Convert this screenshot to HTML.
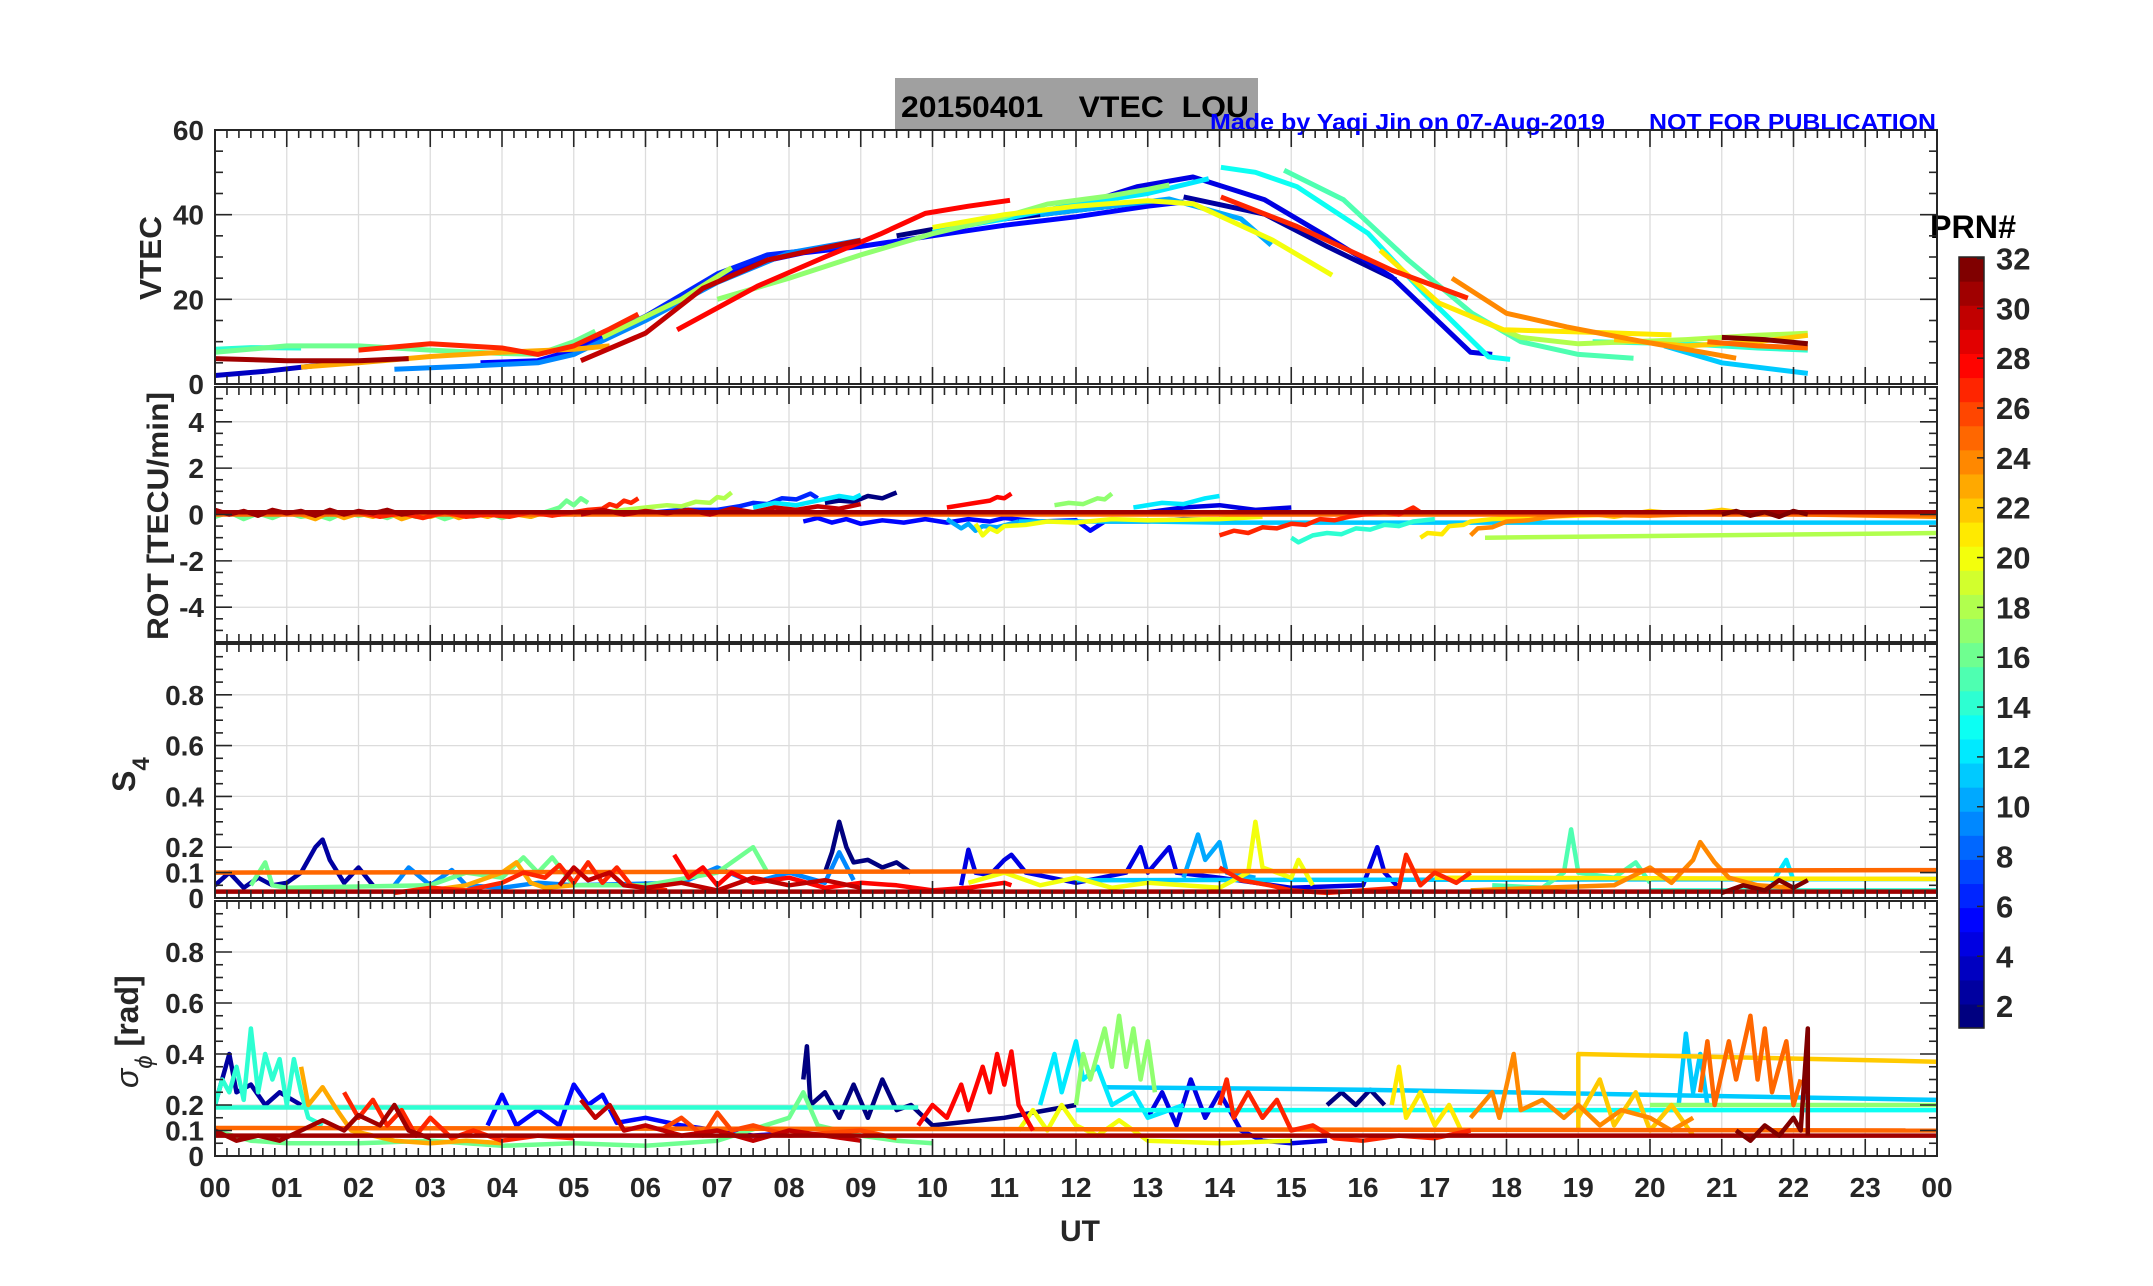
<!DOCTYPE html>
<html><head><meta charset="utf-8"><title>20150401 VTEC LOU</title>
<style>
html,body{margin:0;padding:0;background:#fff;}
svg{display:block;}
text{font-family:"Liberation Sans",sans-serif;font-weight:bold;fill:#262626;}
</style></head>
<body>
<svg id="fig" xmlns="http://www.w3.org/2000/svg" width="2153" height="1286" viewBox="0 0 2153 1286">
  <rect x="0" y="0" width="2153" height="1286" fill="#fff"/>
  <rect x="895" y="78" width="363" height="53" fill="#a0a0a0"/>
  <text x="901" y="117" font-size="30" textLength="348" lengthAdjust="spacingAndGlyphs" xml:space="preserve" style="fill:#000;white-space:pre">20150401    VTEC  LOU</text>
  <text x="1210" y="130" font-size="23" textLength="395" lengthAdjust="spacingAndGlyphs" style="fill:#0000ff">Made by Yaqi Jin on 07-Aug-2019</text>
  <text x="1649" y="130" font-size="23" textLength="287" lengthAdjust="spacingAndGlyphs" style="fill:#0000ff">NOT FOR PUBLICATION</text>
  <text x="1930" y="238" font-size="32" textLength="86" lengthAdjust="spacingAndGlyphs" style="fill:#000">PRN#</text>
  <text x="1060" y="1241" font-size="30">UT</text>
  <text transform="translate(161,300) rotate(-90)" font-size="31" textLength="84" lengthAdjust="spacingAndGlyphs">VTEC</text>
  <text transform="translate(168,640) rotate(-90)" font-size="30" textLength="248" lengthAdjust="spacingAndGlyphs">ROT [TECU/min]</text>
  <text transform="translate(135,792) rotate(-90)" font-size="32">S<tspan font-size="24" dy="14">4</tspan></text>
  <text transform="translate(138,1088) rotate(-90)" font-size="32"><tspan font-style="italic" font-weight="normal">σ</tspan><tspan font-size="24" dy="14" font-style="italic" font-weight="normal">ϕ</tspan><tspan dy="-14"> [rad]</tspan></text>
  <g id="plots"></g>
</svg>
<script>
// ---------- data ----------
const hourLabels = ["00","01","02","03","04","05","06","07","08","09","10","11","12","13","14","15","16","17","18","19","20","21","22","23","00"];
const vtecTicks = [0,20,40,60];
const rotTicks = [-4,-2,0,2,4];
const s4Ticks = [0,0.1,0.2,0.4,0.6,0.8];
const sigTicks = [0,0.1,0.2,0.4,0.6,0.8];
const cbarTicks = [2,4,6,8,10,12,14,16,18,20,22,24,26,28,30,32];

const vtecPrn = [16,14,31,3,23,27,9,5,6,18,30,17,28,12,1,10,20,4,13,15,27,2,21,24,22,18,14,32,11,25];
const vtecPts = [
 [0,7.5, 1,9, 2,9, 3,8, 4,7.2, 4.5,7, 5,10, 5.3,12.5],
 [0,8.2, 0.5,8.6, 1.2,8.5],
 [0,6, 1,5.5, 2,5.5, 2.7,6],
 [0,2, 0.7,3, 1.5,4.5, 2,5.5],
 [1.2,4, 2,5, 3,6.5, 4,7.5, 5,8.2, 5.5,9],
 [2,8, 3,9.5, 4,8.5, 4.5,7, 5,9, 5.5,13, 5.9,16.5],
 [2.5,3.5, 3.5,4.2, 4.5,5, 5,7, 6,15, 7,24, 8,31, 8.5,32.5, 9,34],
 [3.7,5, 4.5,5.5, 5,8, 6,16, 7,25, 7.5,28.5, 8.2,31, 9,32.5, 10,35, 11,37.5, 12,39.5, 13,42, 13.5,43],
 [5,7, 6,16, 7,26, 7.7,30.5, 8.5,32, 9,33.5],
 [5.4,11, 6.5,20, 7.2,27.5],
 [5.1,5.5, 6,12, 6.8,22.6, 7.7,29.3, 8.5,32.2, 9,33.9],
 [7,20, 8,25, 9,30.5, 10,35.5, 11,39.5, 11.6,42.5, 12.5,44.5, 13,46, 13.3,47],
 [6.44,12.8, 7.56,23.1, 8.5,30, 9.27,35.4, 9.9,40.3, 10.5,42, 11.08,43.4],
 [10,36, 11,39, 12,42.5, 13,45, 13.85,48.5],
 [9.5,35, 10.5,38, 11.5,40, 12.5,42, 13,43],
 [11.5,40, 12.5,42, 13.3,43.7, 14.3,39, 14.72,32.8],
 [10,37, 11,40, 12,42, 13,43.3, 13.63,42.6, 14.74,34, 15.57,25.7],
 [11,39, 12,42, 12.85,46.6, 13.63,48.9, 14.63,43.5, 15.5,34.8, 16.4,25.3, 17.5,7.5, 17.8,7],
 [14.02,51.2, 14.5,50, 15.08,46.6, 16.07,35.6, 16.85,21.4, 17.75,6.4, 18.05,5.8],
 [14.9,50.5, 15.73,43.5, 16.63,29.3, 17.52,16.7, 18.2,10, 19,7, 19.77,6.1],
 [14.02,44.2, 15.08,37.2, 16.4,26.9, 17.46,20.3],
 [13.5,44.2, 14.63,40.1, 15.51,32.4, 16.46,24.6],
 [16.24,31.6, 17.06,19.1, 17.96,12.8, 19.4,12.1, 20.3,11.6],
 [17.24,25, 18.0,16.7, 18.84,13.5, 20,9.7, 21.2,6.1],
 [19.5,10.5, 20.5,9, 21.5,10, 22.2,11.5],
 [17.5,16, 18.2,11, 19,9.5, 20.5,10.5, 21.5,11.5, 22.2,12],
 [19.2,10, 20.5,9.5, 21.5,8.5, 22.2,8],
 [21,11, 21.6,10.5, 22.2,9.5],
 [20.2,9, 21,5, 22.2,2.5],
 [20.8,10, 21.5,9, 22.2,8.5]
];

const rotPrn = [25,16,23,27,31,30,18,6,12,1,5,10,20,28,17,11,12,4,27,14,21,24,18,22,32,31];
const rotPts = [
 [0,0, 24,0],
 [0,-0.1, 0.2,0.1, 0.4,-0.2, 0.6,0.05, 0.8,-0.15, 1,0.1, 1.2,-0.1, 1.4,0, 1.6,-0.2, 1.8,0.1, 2,-0.05, 2.2,0.05, 2.4,-0.15, 2.6,0.1, 2.8,-0.1, 3,0.05, 3.2,-0.2, 3.4,0, 3.6,-0.1, 3.8,0.1, 4,-0.15, 4.2,0.05, 4.4,-0.1, 4.6,0.1, 4.8,0.3, 4.9,0.6, 5.0,0.4, 5.1,0.7, 5.2,0.5],
 [1.2,0, 1.4,-0.2, 1.6,0.1, 1.8,-0.15, 2,0.05, 2.2,-0.1, 2.4,0.1, 2.6,-0.2, 2.8,0, 3,-0.1, 3.2,0.1, 3.4,-0.15, 3.6,0.05, 3.8,-0.1, 4,0.1, 4.2,0, 4.4,-0.1, 4.6,0.1, 4.8,0, 5,0.1, 5.2,0.05, 5.4,0.15],
 [2,0.1, 2.3,-0.1, 2.6,0.05, 2.9,-0.15, 3.2,0.1, 3.5,-0.1, 3.8,0, 4.1,-0.1, 4.4,0.1, 4.7,-0.05, 5,0.1, 5.2,0.2, 5.4,0.25, 5.5,0.45, 5.6,0.35, 5.7,0.6, 5.8,0.5, 5.9,0.7],
 [0,0.2, 0.2,0, 0.4,0.15, 0.6,-0.05, 0.8,0.2, 1,0.05, 1.2,0.15, 1.4,-0.05, 1.6,0.2, 1.8,0, 2,0.15, 2.2,0.05, 2.4,0.2, 2.6,0, 2.8,0.1],
 [5.1,0, 5.4,0.2, 5.7,0, 6,0.15, 6.3,0.05, 6.6,0.2, 6.9,0, 7.2,0.25, 7.5,0.1, 7.8,0.3, 8.1,0.2, 8.4,0.35, 8.7,0.25, 9,0.45],
 [5.4,0.1, 5.7,0.2, 6,0.3, 6.3,0.4, 6.5,0.35, 6.7,0.55, 6.9,0.5, 7.0,0.75, 7.1,0.7, 7.2,0.95],
 [5,0, 5.5,0.1, 6,0.05, 6.5,0.2, 7,0.2, 7.3,0.35, 7.5,0.5, 7.7,0.45, 7.9,0.7, 8.1,0.65, 8.3,0.9, 8.4,0.7],
 [7.5,0.3, 7.8,0.5, 8.1,0.4, 8.4,0.6, 8.7,0.8, 8.9,0.7, 9,0.85],
 [8.5,0.5, 8.7,0.6, 8.9,0.55, 9.1,0.8, 9.3,0.7, 9.5,0.95],
 [8.2,-0.3, 8.4,-0.15, 8.6,-0.35, 8.8,-0.2, 9,-0.4, 9.3,-0.25, 9.6,-0.35, 9.9,-0.2, 10.2,-0.35, 10.5,-0.2, 10.8,-0.3, 11,-0.15, 11.5,-0.3, 12,-0.25, 12.2,-0.7, 12.4,-0.3, 13,-0.3, 13.5,-0.2, 14,-0.25],
 [10.2,-0.2, 10.4,-0.6, 10.5,-0.4, 10.6,-0.7, 10.7,-0.5, 10.9,-0.55, 11.2,-0.3],
 [10.6,-0.4, 10.7,-0.9, 10.8,-0.6, 10.9,-0.75, 11,-0.5, 11.3,-0.45, 11.6,-0.3, 12,-0.35, 12.5,-0.2, 13,-0.25, 14,-0.2, 14.6,-0.1],
 [10.2,0.3, 10.4,0.4, 10.6,0.5, 10.8,0.6, 10.9,0.75, 11,0.7, 11.1,0.9],
 [11.7,0.4, 11.9,0.5, 12.1,0.45, 12.3,0.7, 12.4,0.65, 12.5,0.9],
 [11.2,-0.3, 13.0,-0.3, 14,-0.35, 24,-0.35],
 [12.8,0.3, 13.2,0.5, 13.5,0.45, 13.8,0.7, 14,0.8],
 [13,0.1, 13.5,0.3, 14,0.4, 14.5,0.2, 15,0.3],
 [14,-0.9, 14.2,-0.7, 14.4,-0.8, 14.6,-0.55, 14.8,-0.6, 15,-0.4, 15.2,-0.45, 15.4,-0.2, 15.6,-0.25, 15.8,-0.1, 16,0, 16.3,0.1, 16.5,0, 16.7,0.3, 16.8,0.1],
 [15,-1.0, 15.1,-1.2, 15.3,-0.9, 15.5,-0.8, 15.7,-0.85, 15.9,-0.6, 16.1,-0.65, 16.3,-0.45, 16.5,-0.5, 16.7,-0.3, 17,-0.2],
 [16.8,-1.0, 16.9,-0.8, 17.1,-0.85, 17.2,-0.5, 17.4,-0.45, 17.5,-0.3, 17.8,-0.2, 18.5,-0.1, 19.5,0, 20,0.1, 21,0],
 [17.5,-0.9, 17.6,-0.6, 17.8,-0.55, 18,-0.3, 18.3,-0.25, 18.6,-0.1, 19,0, 20,-0.05, 21,0.05, 22.2,0, 24,-0.1],
 [17.7,-1.0, 24,-0.8],
 [19,0.1, 19.5,-0.1, 20,0.15, 20.5,0, 21,0.2, 21.5,0, 22,0.1],
 [21,0, 21.2,0.15, 21.4,-0.05, 21.6,0.1, 21.8,-0.1, 22,0.15, 22.2,0],
 [0,0.1, 24,0.1]
];

const s4Prn = [31,14,11,21,2,16,9,23,27,28,30,1,4,10,20,27,15,24,32,12,25];
const s4Pts = [
 [0,0.025, 24,0.025],
 [20,0.03, 24,0.03],
 [12,0.07, 24,0.075],
 [17,0.08, 24,0.075],
 [0,0.05, 0.2,0.1, 0.4,0.04, 0.6,0.08, 0.8,0.05, 1,0.06, 1.2,0.1, 1.4,0.2, 1.5,0.23, 1.6,0.15, 1.8,0.06, 2,0.12, 2.2,0.05],
 [0.5,0.05, 0.7,0.14, 0.8,0.05, 1,0.04, 3,0.05, 3.5,0.1, 4,0.08, 4.3,0.16, 4.5,0.1, 4.7,0.16, 5,0.05, 6,0.05, 7,0.1, 7.5,0.2, 7.7,0.1],
 [2.5,0.05, 2.7,0.12, 3,0.05, 3.3,0.11, 3.5,0.05, 4,0.04, 4.5,0.06, 5,0.05, 6.5,0.06, 7,0.12, 7.5,0.06, 8,0.1, 8.5,0.06, 8.7,0.18, 8.9,0.07],
 [3,0.03, 3.5,0.05, 4,0.1, 4.2,0.14, 4.4,0.06, 4.6,0.04, 5,0.05],
 [2.5,0.02, 3,0.04, 3.5,0.03, 4,0.06, 4.3,0.1, 4.6,0.08, 4.8,0.13, 5,0.06, 5.2,0.14, 5.4,0.06, 5.6,0.12, 5.8,0.05, 6,0.04, 6.3,0.03],
 [6.4,0.17, 6.6,0.08, 6.8,0.12, 7,0.05, 7.2,0.1, 7.5,0.06, 8,0.08, 8.5,0.04, 9,0.06, 9.5,0.05, 10,0.03, 10.5,0.04, 11,0.06, 11.1,0.05],
 [4.8,0.05, 5,0.12, 5.2,0.07, 5.5,0.1, 5.7,0.05, 6,0.04, 6.5,0.06, 7,0.03, 7.5,0.08, 8,0.05, 8.5,0.07, 9,0.04],
 [8.5,0.1, 8.6,0.18, 8.7,0.3, 8.8,0.2, 8.9,0.14, 9.1,0.15, 9.3,0.12, 9.5,0.14, 9.7,0.1],
 [10.4,0.05, 10.5,0.19, 10.6,0.1, 10.8,0.09, 11,0.15, 11.1,0.17, 11.3,0.1, 12,0.06, 12.7,0.1, 12.9,0.2, 13.0,0.1, 13.3,0.2, 13.4,0.1, 14,0.08, 15,0.04, 16,0.05, 16.2,0.2, 16.3,0.1, 16.5,0.04],
 [13.5,0.08, 13.7,0.25, 13.8,0.15, 14,0.22, 14.1,0.1, 14.5,0.08],
 [10.5,0.06, 11,0.1, 11.5,0.05, 12,0.08, 12.5,0.04, 13,0.06, 14,0.04, 14.4,0.1, 14.5,0.3, 14.6,0.12, 15,0.08, 15.1,0.15, 15.3,0.05],
 [14,0.12, 14.3,0.07, 14.7,0.05, 15,0.03, 15.5,0.02, 16,0.03, 16.5,0.04, 16.6,0.17, 16.8,0.05, 17,0.1, 17.3,0.06, 17.5,0.1],
 [17.8,0.05, 18.5,0.04, 18.8,0.1, 18.9,0.27, 19.0,0.1, 19.5,0.08, 19.8,0.14, 20,0.06],
 [17.5,0.03, 18.5,0.04, 19.5,0.05, 20,0.12, 20.3,0.06, 20.6,0.15, 20.7,0.22, 20.9,0.14, 21.1,0.08, 21.5,0.05, 22,0.04],
 [21,0.02, 21.3,0.05, 21.6,0.03, 21.8,0.07, 22,0.04, 22.2,0.07],
 [21.7,0.06, 21.9,0.15, 22,0.07],
 [0,0.1, 24,0.11]
];

const sigPrn = [14,13,11,17,14,2,23,27,31,16,5,1,28,30,26,20,12,17,4,27,1,21,24,22,11,25,32,22,25,31];
const sigPts = [
 [0,0.19, 9.8,0.19],
 [12,0.18, 24,0.18],
 [12.4,0.27, 16,0.26, 24,0.22],
 [20,0.2, 24,0.2],
 [0,0.2, 0.1,0.3, 0.2,0.25, 0.3,0.35, 0.4,0.22, 0.5,0.5, 0.6,0.25, 0.7,0.4, 0.8,0.3, 0.9,0.38, 1,0.2, 1.1,0.38, 1.2,0.25, 1.3,0.15, 1.5,0.12],
 [0,0.2, 0.2,0.4, 0.3,0.25, 0.5,0.28, 0.7,0.2, 0.9,0.25, 1.2,0.2],
 [1.2,0.35, 1.3,0.2, 1.5,0.27, 1.7,0.18, 1.9,0.1, 2.5,0.06, 3,0.05, 3.5,0.06, 4,0.05],
 [1.8,0.25, 2,0.15, 2.2,0.22, 2.4,0.12, 2.6,0.18, 2.8,0.08, 3,0.15, 3.3,0.07, 3.6,0.1, 4,0.06, 4.5,0.08, 5,0.07],
 [0,0.1, 0.3,0.06, 0.6,0.08, 0.9,0.06, 1.2,0.1, 1.5,0.14, 1.8,0.1, 2,0.16, 2.3,0.12, 2.5,0.2, 2.7,0.1, 3,0.07],
 [0,0.1, 0.5,0.06, 1,0.05, 2,0.05, 3,0.06, 4,0.04, 5,0.05, 6,0.04, 7,0.06, 8,0.15, 8.2,0.25, 8.4,0.12, 9,0.08, 9.5,0.06, 10,0.05],
 [3.8,0.12, 4,0.24, 4.2,0.12, 4.5,0.18, 4.8,0.12, 5,0.28, 5.2,0.2, 5.4,0.24, 5.6,0.13, 6,0.15, 6.5,0.12, 7,0.1, 7.5,0.08, 8,0.09],
 [8.2,0.3, 8.25,0.43, 8.3,0.2, 8.5,0.25, 8.7,0.15, 8.9,0.28, 9.1,0.15, 9.3,0.3, 9.5,0.18, 9.7,0.2, 10,0.12, 11,0.15, 12,0.2],
 [9.8,0.12, 10,0.2, 10.2,0.15, 10.4,0.28, 10.5,0.18, 10.7,0.35, 10.8,0.25, 10.9,0.4, 11,0.28, 11.1,0.41, 11.2,0.2, 11.4,0.1],
 [5.1,0.22, 5.3,0.15, 5.5,0.2, 5.7,0.1, 6,0.12, 6.5,0.08, 7,0.1, 7.5,0.06, 8,0.1, 9,0.06],
 [6.2,0.1, 6.5,0.15, 6.8,0.08, 7,0.17, 7.2,0.1, 7.5,0.12, 8,0.08, 9,0.1, 9.5,0.07],
 [11.2,0.1, 11.4,0.18, 11.6,0.1, 11.8,0.2, 12,0.12, 12.3,0.08, 12.6,0.14, 13,0.06, 14,0.05, 15,0.06],
 [11.5,0.2, 11.7,0.4, 11.8,0.25, 12,0.45, 12.1,0.3, 12.3,0.35, 12.5,0.2, 12.8,0.25, 13,0.15, 13.5,0.2],
 [12.0,0.2, 12.1,0.4, 12.2,0.3, 12.4,0.5, 12.5,0.35, 12.6,0.55, 12.7,0.35, 12.8,0.5, 12.9,0.3, 13,0.45, 13.1,0.25],
 [13,0.15, 13.2,0.25, 13.4,0.12, 13.6,0.3, 13.8,0.15, 14,0.25, 14.3,0.1, 14.6,0.06, 15,0.05, 15.5,0.06],
 [14,0.2, 14.1,0.3, 14.2,0.15, 14.4,0.25, 14.6,0.15, 14.8,0.22, 15,0.1, 15.3,0.12, 15.6,0.07, 16,0.06, 16.5,0.08, 17,0.07, 17.5,0.1],
 [15.5,0.2, 15.7,0.25, 15.9,0.2, 16.1,0.26, 16.3,0.2],
 [16.4,0.2, 16.5,0.35, 16.6,0.15, 16.8,0.25, 17,0.12, 17.2,0.2, 17.4,0.08],
 [17.5,0.15, 17.8,0.25, 17.9,0.15, 18.1,0.4, 18.2,0.18, 18.5,0.22, 18.8,0.15, 19,0.2, 19.3,0.12, 19.6,0.18, 20,0.15, 20.3,0.1, 20.6,0.15],
 [19,0.15, 19.3,0.3, 19.5,0.12, 19.8,0.25, 20,0.1, 20.3,0.2, 20.6,0.08],
 [20.4,0.2, 20.5,0.48, 20.6,0.25, 20.7,0.4, 20.8,0.2],
 [20.7,0.25, 20.8,0.45, 20.9,0.2, 21.1,0.45, 21.2,0.3, 21.4,0.55, 21.5,0.3, 21.6,0.5, 21.7,0.25, 21.9,0.45, 22,0.2, 22.1,0.3],
 [21.2,0.1, 21.4,0.06, 21.6,0.12, 21.8,0.08, 22,0.15, 22.1,0.1, 22.2,0.5, 22.2,0.08],
 [19,0.1, 19,0.4, 24,0.37],
 [0,0.11, 24,0.1],
 [0,0.08, 24,0.08]
];

// ---------- layout ----------
const NS = "http://www.w3.org/2000/svg";
const X0 = 215, X1 = 1937;
const root = document.getElementById('plots');
function xs(h){ return X0 + h/24*(X1-X0); }
function jet(p){
  const t=(p-1)/31;
  const c=v=>Math.round(255*Math.max(0,Math.min(1,v)));
  return "rgb("+c(1.5-Math.abs(4*t-3))+","+c(1.5-Math.abs(4*t-2))+","+c(1.5-Math.abs(4*t-1))+")";
}
function mk(tag, attrs, parent){
  const e=document.createElementNS(NS,tag);
  for(const k in attrs) e.setAttribute(k,attrs[k]);
  (parent||root).appendChild(e);
  return e;
}
const panels = [
 {name:'vtec', top:130, bot:384, lo:0, hi:60, ticks:vtecTicks, minor:5, prn:vtecPrn, pts:vtecPts, lw:5},
 {name:'rot', top:387, bot:642, lo:-5.5, hi:5.5, ticks:rotTicks, minor:0.5, prn:rotPrn, pts:rotPts, lw:4.5},
 {name:'s4', top:644, bot:898, lo:0, hi:1, ticks:s4Ticks, minor:0.05, prn:s4Prn, pts:s4Pts, lw:4.5},
 {name:'sigma', top:901, bot:1156, lo:0, hi:1, ticks:sigTicks, minor:0.05, prn:sigPrn, pts:sigPts, lw:4.5}
];

panels.forEach(function(P){
  const ys = v => P.bot - (v-P.lo)/(P.hi-P.lo)*(P.bot-P.top);
  const g = mk('g',{});
  
  
  for(let h=1; h<24; h++){
    const l = mk('line',{x1:xs(h),x2:xs(h),y1:P.top,y2:P.bot,stroke:'#dcdcdc','stroke-width':1.3},g);
    
    
  }
  P.ticks.forEach(function(v){
    if(v===P.lo || v===0.1) return;
    const l = mk('line',{x1:X0,x2:X1,y1:ys(v),y2:ys(v),stroke:'#dcdcdc','stroke-width':1.3},g);
    
    
  });
  const clip = mk('clipPath',{id:'clip-'+P.name},g);
  mk('rect',{x:X0,y:P.top,width:X1-X0,height:P.bot-P.top},clip);
  const sg = mk('g',{'clip-path':'url(#clip-'+P.name+')'},g);
  
  
  const order = P.prn.map((p,i)=>i).sort((a,b)=>P.prn[a]-P.prn[b]);
  order.forEach(function(i){
    const a = P.pts[i];
    let d='';
    for(let k=0;k<a.length;k+=2) d += (k?'L':'M') + xs(a[k]).toFixed(1) + ',' + ys(a[k+1]).toFixed(1);
    const path = mk('path',{d:d,fill:'none',stroke:jet(P.prn[i]),'stroke-width':P.lw,'stroke-linejoin':'round','stroke-linecap':'butt'},sg);
    
    
  });
  for(let m=0; m<=144; m++){
    const h=m/6, major=(m%6===0), len=major?17:8;
    const t1 = mk('line',{x1:xs(h),x2:xs(h),y1:P.bot,y2:P.bot-len,stroke:'#262626','stroke-width':1.6},g);
    
    
    const t2 = mk('line',{x1:xs(h),x2:xs(h),y1:P.top,y2:P.top+len,stroke:'#262626','stroke-width':1.6},g);
    
    
  }
  const n = Math.round((P.hi-P.lo)/P.minor);
  for(let k=0;k<=n;k++){
    const v = P.lo + k*P.minor;
    const major = P.ticks.some(t=>Math.abs(t-v)<1e-6);
    const len = major?17:8;
    const t1 = mk('line',{x1:X0,x2:X0+len,y1:ys(v),y2:ys(v),stroke:'#262626','stroke-width':1.6},g);
    
    
    const t2 = mk('line',{x1:X1,x2:X1-len,y1:ys(v),y2:ys(v),stroke:'#262626','stroke-width':1.6},g);
    
    
  }
  P.ticks.forEach(function(v){
    const tx = mk('text',{x:204,y:ys(v)+10,'font-size':28,'text-anchor':'end'},g);
    tx.textContent = String(v);
    
    
  });
  const fr = mk('rect',{x:X0,y:P.top,width:X1-X0,height:P.bot-P.top,fill:'none',stroke:'#262626','stroke-width':2},g);
  
  
});

hourLabels.forEach(function(lab,i){
  const t = mk('text',{x:xs(i),y:1197,'font-size':28,'text-anchor':'middle'});
  t.textContent = lab;
  
  
});

const CB = {x:1959, w:25, top:257, bot:1028};
const cbg = mk('g',{});


const bandH = (CB.bot-CB.top)/32;
for(let p=1;p<=32;p++){
  const r = mk('rect',{x:CB.x,y:CB.bot-p*bandH,width:CB.w,height:bandH+0.6,fill:jet(p)},cbg);
  
  
}
const cbf = mk('rect',{x:CB.x,y:CB.top,width:CB.w,height:CB.bot-CB.top,fill:'none',stroke:'#262626','stroke-width':1.5},cbg);


cbarTicks.forEach(function(v){
  const y = 258.5 + (32-v)*24.92;
  const tk = mk('line',{x1:CB.x+CB.w,x2:CB.x+CB.w-7,y1:y,y2:y,stroke:'#262626','stroke-width':1.5},cbg);
  
  
  const t = mk('text',{x:1996,y:y+11,'font-size':31},cbg);
  t.textContent = String(v);
  
  
});
</script>
</body></html>
